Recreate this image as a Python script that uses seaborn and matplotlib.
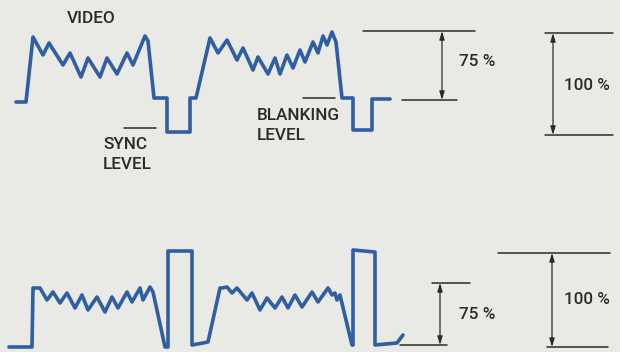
import matplotlib
matplotlib.use("Agg")
import matplotlib.pyplot as plt
import seaborn as sns
import pandas as pd

# ---- data (waveform traces, in picture units) ----
top_x = [16, 26, 33, 43, 49, 63, 70, 81, 88, 100, 107, 117, 127, 133, 145, 148, 154, 167, 167, 190, 190, 196,
         210, 218, 227, 237, 243, 253, 258, 268, 275, 280, 287, 293, 300, 305, 313, 318, 323, 327, 332, 336,
         342, 353, 353, 372, 372, 390]
top_y = [102, 102, 37, 55, 43, 65, 53, 77, 58, 77, 58, 74, 53, 65, 36, 41, 98, 98, 132, 132, 98, 98,
         38, 53, 40, 60, 48, 70, 57, 74, 58, 74, 55, 68, 50, 62, 42, 53, 36, 45, 32, 42,
         98, 98, 130, 130, 99, 99]

bot_x = [9, 32, 33, 40, 47, 53, 60, 67, 75, 82, 88, 97, 105, 112, 118, 127, 132, 140, 143, 150, 153,
         165, 168, 168, 192, 192, 203, 208, 220, 222, 227, 232, 237, 247, 252, 260, 267, 275, 282,
         288, 295, 302, 312, 318, 328, 332, 335, 337, 340, 352, 353, 353, 375, 375, 397, 403]
bot_y = [347, 347, 288, 288, 300, 292, 303, 293, 308, 295, 310, 297, 312, 297, 308, 292, 302, 288, 300, 287, 292,
         347, 347, 251, 251, 345, 343, 342, 288, 288, 287, 293, 288, 300, 293, 310, 298, 308, 297,
         308, 295, 307, 292, 302, 288, 295, 293, 300, 295, 345, 345, 250, 252, 345, 343, 335]

labels = ["VIDEO", "SYNC", "LEVEL", "BLANKING", "LEVEL", "75 %", "100 %", "75 %", "100 %"]

BG = "#e9e9e6"
BLUE = "#2f5ea3"
INK = "#2b2b2b"

sns.set_style("white")
plt.rcParams['font.family'] = ['Roboto', 'Liberation Sans', 'DejaVu Sans']

fig = plt.figure(figsize=(6.2, 3.52), dpi=100, facecolor=BG)
ax = fig.add_axes([0, 0, 1, 1])
ax.set_facecolor(BG)

df_top = pd.DataFrame({"x": top_x, "y": top_y})
df_bot = pd.DataFrame({"x": bot_x, "y": bot_y})
for df in (df_top, df_bot):
    sns.lineplot(data=df, x="x", y="y", sort=False, estimator=None, color=BLUE, lw=2.6, ax=ax,
                 solid_joinstyle="round", solid_capstyle="round")

ax.set_xlim(0, 620)
ax.set_ylim(352, 0)
ax.axis("off")

lw_thin = 1.1
# reference lines
for (x0, x1, y) in [(124, 156, 128), (303, 335, 98), (363, 475, 31), (402, 457, 100),
                    (545, 613, 33), (545, 613, 135), (400, 447, 345), (432, 470, 283),
                    (498, 610, 253), (547, 608, 347)]:
    ax.plot([x0, x1], [y, y], color=INK, lw=lw_thin)

arrow_kw = dict(arrowstyle="<|-|>,head_length=0.5,head_width=0.15", color=INK, lw=0.9,
                shrinkA=0, shrinkB=0)
for (x, y0, y1) in [(442, 31, 100), (553, 33, 135), (440, 283, 345), (552, 253, 347)]:
    ax.annotate("", xy=(x, y0), xytext=(x, y1), arrowprops=arrow_kw)

fs = 12.3
tk = dict(fontsize=fs, color=INK, fontweight="medium")
ax.text(91, 18.5, labels[0], ha="center", va="center", **tk)
ax.text(103, 144.5, labels[1], ha="left", va="center", **tk)
ax.text(103, 164.5, labels[2], ha="left", va="center", **tk)
ax.text(257, 116, labels[3], ha="left", va="center", **tk)
ax.text(257, 136, labels[4], ha="left", va="center", **tk)
ax.text(477, 61.5, labels[5], ha="center", va="center", **tk)
ax.text(587, 86, labels[6], ha="center", va="center", **tk)
ax.text(477, 314.5, labels[7], ha="center", va="center", **tk)
ax.text(587, 300, labels[8], ha="center", va="center", **tk)

fig.savefig("out.png", dpi=100, facecolor=BG)
